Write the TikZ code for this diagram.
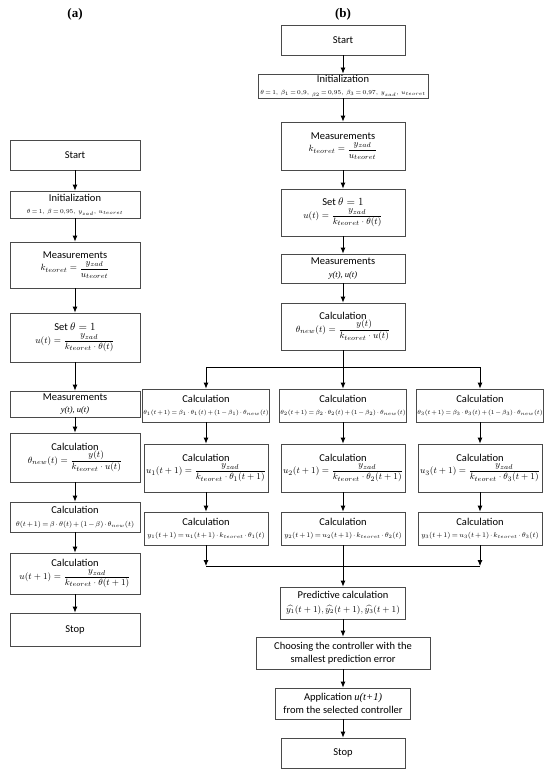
\documentclass[tikz,border=0pt]{standalone}
\usepackage{fontspec}
\setmainfont{Carlito}
\newfontfamily\labfont{Liberation Serif}
\usetikzlibrary{arrows.meta}
\definecolor{edge}{HTML}{4A4A4A}
\tikzset{
  blk/.style={draw=edge, line width=0.8pt, minimum width=124pt, inner sep=1pt, align=center,
    font=\fontsize{10.5}{12.5}\selectfont},
  link/.style={-{Latex[length=6pt,width=5pt]}, line width=0.8pt},
  tag/.style={font=\labfont\bfseries\fontsize{13}{15}\selectfont},
}
\newcommand{\smf}[2][6.2]{{\fontsize{#1}{8.5}\selectfont\thickmuskip=3mu\medmuskip=2mu$#2$}}
\newcommand{\fr}[1]{{\fontsize{9.5}{11}\selectfont$\displaystyle #1$}}
\newcommand{\itx}[1]{{\labfont\itshape\fontsize{8.5}{10}\selectfont #1}}

\begin{document}
\begin{tikzpicture}[x=1pt, y=-1pt]
  \path[use as bounding box, fill=white] (0,0) rectangle (550,777);
  % (a) single controller
  \node[tag] (aTag) at (75,14) {(a)};
  \node[blk, minimum width=130pt, minimum height=30pt] (aStart) at (75,155) {Start};
  \node[blk, minimum width=130pt, minimum height=27pt] (aInit) at (75,204.5)
    {Initialization\\ \smf{\theta=1,\ \beta=0{,}95,\ y_{zad},\ u_{teoret}}};
  \node[blk, minimum width=130pt, minimum height=46pt] (aMeas) at (75,265)
    {Measurements\\ \fr{k_{teoret}=\frac{y_{zad}}{u_{teoret}}}};
  \node[blk, minimum width=130pt, minimum height=49pt] (aSet) at (75,337.5)
    {Set $\theta=1$\\ \fr{u(t)=\frac{y_{zad}}{k_{teoret}\cdot\theta(t)}}};
  \node[blk, minimum width=130pt, minimum height=26pt] (aMeasB) at (75,404)
    {Measurements\\ \itx{y(t), u(t)}};
  \node[blk, minimum width=130pt, minimum height=49pt] (aCalcA) at (75,457.5)
    {Calculation\\ \fr{\theta_{new}(t)=\frac{y(t)}{k_{teoret}\cdot u(t)}}};
  \node[blk, minimum width=130pt, minimum height=30pt] (aCalcB) at (75,517)
    {Calculation\\ \smf[7.2]{\theta(t+1)=\beta\cdot\theta(t)+(1-\beta)\cdot\theta_{new}(t)}};
  \node[blk, minimum width=130pt, minimum height=41pt] (aCalcC) at (75,573.5)
    {Calculation\\ \fr{u(t+1)=\frac{y_{zad}}{k_{teoret}\cdot\theta(t+1)}}};
  \node[blk, minimum width=130pt, minimum height=33pt] (aStop) at (75,629.5) {Stop};
  \foreach \p/\q in {aStart/aInit, aInit/aMeas, aMeas/aSet, aSet/aMeasB, aMeasB/aCalcA,
    aCalcA/aCalcB, aCalcB/aCalcC, aCalcC/aStop}
    \draw[link] (\p) -- (\q);

  % (b) three controllers
  \node[tag] (bTag) at (343,14) {(b)};
  \node[blk, minimum height=30pt] (bStart) at (343,40) {Start};
  \node[blk, minimum width=170pt, minimum height=22pt] (bInit) at (343,86)
    {Initialization\\ \smf{\theta=1,\ \beta_1=0{,}9,\ {}_{\beta2}=0{,}95,\ \beta_3=0{,}97,\ y_{zad},\ u_{teoret}}};
  \node[blk, minimum height=48pt] (bMeas) at (343,146)
    {Measurements\\ \fr{k_{teoret}=\frac{y_{zad}}{u_{teoret}}}};
  \node[blk, minimum height=47pt] (bSet) at (343,212.5)
    {Set $\theta=1$\\ \fr{u(t)=\frac{y_{zad}}{k_{teoret}\cdot\theta(t)}}};
  \node[blk, minimum height=29pt] (bMeasB) at (343,268.5)
    {Measurements\\ \itx{y(t), u(t)}};
  \node[blk, minimum height=47pt] (bCalc) at (343,326.5)
    {Calculation\\ \fr{\theta_{new}(t)=\frac{y(t)}{k_{teoret}\cdot u(t)}}};
  \foreach \p/\q in {bStart/bInit, bInit/bMeas, bMeas/bSet, bSet/bMeasB, bMeasB/bCalc}
    \draw[link] (\p) -- (\q);

  \foreach \i/\xx in {1/206, 2/343, 3/480}{
    \node[blk, minimum height=33pt] (bT\i) at (\xx,405.5)
      {Calculation\\ \smf{\theta_\i(t+1)=\beta_\i\cdot\theta_\i(t)+(1-\beta_\i)\cdot\theta_{new}(t)}};
    \node[blk, minimum height=48pt] (bU\i) at (\xx,468)
      {Calculation\\ \fr{u_\i(t+1)=\frac{y_{zad}}{k_{teoret}\cdot\theta_\i(t+1)}}};
    \node[blk, minimum height=33pt] (bY\i) at (\xx,528.5)
      {Calculation\\ \smf[7]{y_\i(t+1)=u_\i(t+1)\cdot k_{teoret}\cdot\theta_\i(t)}};
    \draw[link] (bT\i) -- (bU\i);
    \draw[link] (bU\i) -- (bY\i);
  }
  % split and join
  \coordinate (bSplit) at (343,367);
  \draw[link] (bCalc) -- (bT2);
  \draw[link] (bSplit) -| (bT1);
  \draw[link] (bSplit) -| (bT3);
  \coordinate (bJoinL) at (206,566);
  \coordinate (bJoinR) at (480,566);
  \draw[link] (bY1) -- (bJoinL);
  \draw[link] (bY3) -- (bJoinR);
  \draw[line width=0.8pt] (bJoinL) -- (bJoinR);

  \node[blk, minimum width=125pt, minimum height=32pt] (bPred) at (343,603)
    {Predictive calculation\\[1.5pt] {\fontsize{9}{10}\selectfont$\widehat{y_1}(t+1),\widehat{y_2}(t+1),\widehat{y_3}(t+1)$}};
  \node[blk, minimum width=174pt, minimum height=32pt] (bChoose) at (343,653)
    {Choosing the controller with the\\ smallest prediction error};
  \node[blk, minimum width=135pt, minimum height=31pt] (bApp) at (343,703.5)
    {Application {\labfont\itshape u(t+1)}\\ from the selected controller};
  \node[blk, minimum height=30pt] (bStop) at (343,753) {Stop};
  \foreach \p/\q in {bY2/bPred, bPred/bChoose, bChoose/bApp, bApp/bStop}
    \draw[link] (\p) -- (\q);
\end{tikzpicture}
\end{document}
